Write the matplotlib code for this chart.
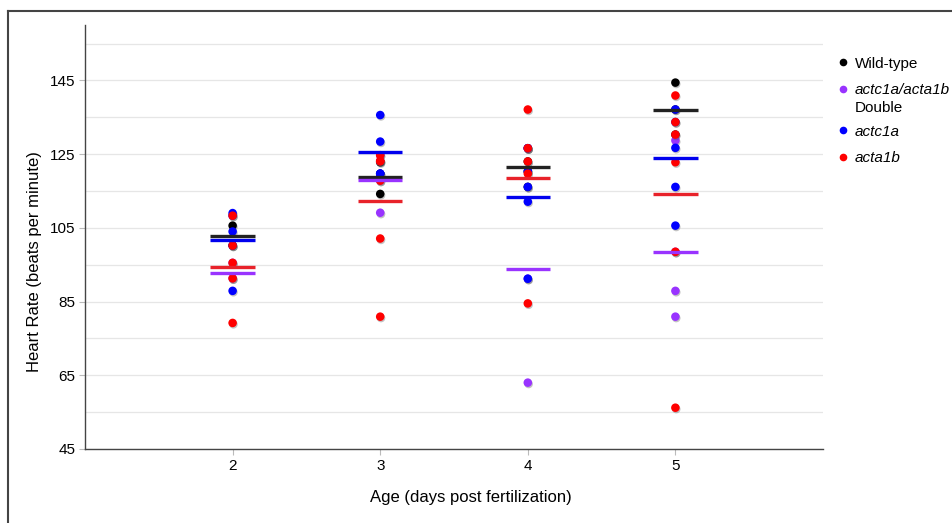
import matplotlib
matplotlib.use("Agg")
import matplotlib.pyplot as plt
import matplotlib.patheffects as pe
from matplotlib.lines import Line2D

plt.rcParams['font.family'] = ['Liberation Sans', 'DejaVu Sans']

days = [2, 3, 4, 5]

# individual fish (beats per minute); some sit hidden behind others
wt_pts = [[105.6, 100.2], [122.8, 114.2, 119.7], [126.6, 116.1, 123.0, 120.3], [144.4, 130.3, 137.1]]
double_pts = [[95.5, 91.3], [109.1, 124.7, 123.1, 117.8], [63.0, 126.6, 91.2], [128.7, 87.9, 80.9, 98.5]]
actc1a_pts = [[109.0, 104.0, 87.9, 100.2, 108.3], [135.6, 128.4, 119.7, 119.7],
              [120.3, 116.1, 112.1, 91.2, 126.6], [137.1, 126.7, 116.1, 105.6, 133.7]]
acta1b_pts = [[108.3, 100.2, 95.5, 91.3, 79.2], [124.7, 123.1, 117.8, 102.1, 80.9, 123.1],
              [137.1, 126.6, 123.0, 119.7, 84.5], [140.9, 133.7, 122.8, 98.5, 56.2, 130.3]]

# group means (horizontal bars)
wt_mean = [102.9, 118.8, 121.5, 137.1]
double_mean = [92.7, 117.9, 93.7, 98.5]
actc1a_mean = [101.7, 125.7, 113.4, 124.0]
acta1b_mean = [94.5, 112.3, 118.4, 114.3]

names = ["Wild-type", "actc1a/acta1b", "actc1a", "acta1b"]
name_styles = ["normal", "italic", "italic", "italic"]
dot_colors = ["#000000", "#9933ff", "#0000ff", "#ff0000"]
bar_colors = ["#222222", "#9933ff", "#0000ee", "#e8222a"]
all_pts = [wt_pts, double_pts, actc1a_pts, acta1b_pts]
all_means = [wt_mean, double_mean, actc1a_mean, acta1b_mean]

fig = plt.figure(figsize=(9.52, 5.23), dpi=100)
ax = fig.add_axes([0.0893, 0.1415, 0.7752, 0.8105])

shadow = [pe.SimplePatchShadow(offset=(0.6, -1.0), shadow_rgbFace='#555555', alpha=0.35), pe.Normal()]

for pts, means, col, lcol in zip(all_pts, all_means, dot_colors, bar_colors):
    xs, ys = [], []
    for d, vals in zip(days, pts):
        xs += [d] * len(vals)
        ys += vals
    sc = ax.scatter(xs, ys, s=38, color=col, edgecolors='none', zorder=3)
    sc.set_path_effects(shadow)
    for d, m in zip(days, means):
        ax.plot([d - 0.15, d + 0.15], [m, m], color=lcol, lw=2.4, zorder=4,
                solid_capstyle='butt')

ax.set_xlim(1, 6)
ax.set_ylim(45, 160)
ax.set_xticks(days)
ax.set_yticks([45, 65, 85, 105, 125, 145])
ax.set_yticks(range(55, 160, 10), minor=True)
ax.grid(axis='y', which='both', color='#e6e6e6', lw=0.9, zorder=0)
ax.set_axisbelow(True)
for s in ['top', 'right']:
    ax.spines[s].set_visible(False)
for s in ['left', 'bottom']:
    ax.spines[s].set_color('#444444')
    ax.spines[s].set_linewidth(1.0)
ax.tick_params(axis='both', which='major', length=4, color='#bbbbbb', labelsize=11, pad=3)
ax.tick_params(axis='y', which='minor', length=0)

ax.set_ylabel("Heart Rate (beats per minute)", fontsize=12)
ax.set_xlabel("Age (days post fertilization)", fontsize=12)
ax.yaxis.set_label_coords(-0.058, 0.441)
ax.xaxis.set_label_coords(0.523, -0.097)

# legend drawn by hand (the double-mutant label mixes italic and upright lines)
W, H = 952, 523
legend_rows = [62, 89, 130, 157]
for name, style, col, yp in zip(names, name_styles, dot_colors, legend_rows):
    fig.add_artist(Line2D([843 / W], [1 - yp / H], marker='o', ls='none', color=col,
                          markersize=5.5, markeredgecolor='none'))
    fig.text(855 / W, 1 - yp / H, name, fontsize=11, style=style,
             va='center_baseline', ha='left')
fig.text(855 / W, 1 - 107 / H, "Double", fontsize=11, va='center_baseline', ha='left')

# outer frame lines of the original screenshot
fig.add_artist(Line2D([8 / W, 1], [1 - 11 / H, 1 - 11 / H], color='#444444', lw=1.5))
fig.add_artist(Line2D([8 / W, 8 / W], [0, 1 - 11 / H], color='#444444', lw=1.5))

plt.savefig('out.png', dpi=100)
